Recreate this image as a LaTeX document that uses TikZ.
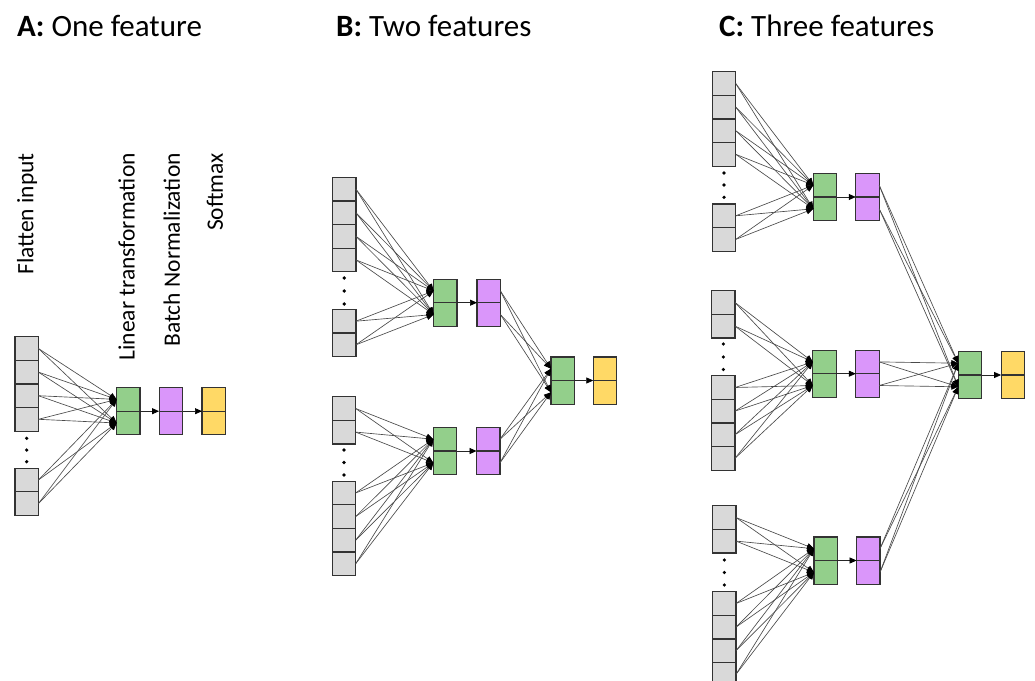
\documentclass[tikz,border=0pt]{standalone}
\usepackage{fontspec}
\setmainfont{Carlito}
\usetikzlibrary{arrows.meta}
\definecolor{cellgray}{HTML}{D9D9D9}
\definecolor{lingreen}{HTML}{93CF8B}
\definecolor{bnpurple}{HTML}{DA96FA}
\definecolor{smyellow}{HTML}{FFD966}
\definecolor{boxc}{HTML}{333333}
\definecolor{linec}{HTML}{4A4A4A}
\newcommand\pairbox[4]{%
  \node[#2] (#1a) at (#3,#4-11.8) {};
  \node[#2] (#1b) at (#3,#4+11.8) {};}
\begin{document}
\begin{tikzpicture}[x=1pt,y=-1pt,
  cell/.style={draw=boxc, line width=1.2pt, minimum width=23.4pt, minimum height=23.6pt, inner sep=0pt, outer sep=0pt},
  inp/.style={cell, fill=cellgray},
  lin/.style={cell, fill=lingreen},
  bn/.style={cell, fill=bnpurple},
  sm/.style={cell, fill=smyellow},
  conn/.style={draw=linec, line width=0.65pt, -{Triangle[length=7pt,width=6pt,color=black]}},
  flow/.style={draw=black!85, line width=0.7pt, -{Triangle[length=7pt,width=6pt,color=black]}},
  vdot/.style={circle, fill=black, inner sep=0pt, minimum size=3.6pt},
  title/.style={anchor=base west, inner sep=0pt, font=\fontsize{31}{37}\selectfont},
  lab/.style={rotate=90, anchor=east, inner sep=0pt, font=\fontsize{23.5}{28}\selectfont}]
\useasboundingbox (0,0) rectangle (1035,680);

% titles
\node[title] (tA) at (17,36) {\textbf{A:} One feature};
\node[title] (tB) at (336,36) {\textbf{B:} Two features};
\node[title] (tC) at (719,36) {\textbf{C:} Three features};

% ---------------- Panel A ----------------
\node[lab] (lF) at (27,153) {Flatten input};
\node[lab] (lL) at (126.7,153) {Linear transformation};
\node[lab] (lB) at (171.7,153) {Batch Normalization};
\node[lab] (lS) at (215,153) {Softmax};

\foreach \n/\y in {1/348.5,2/372.1,3/395.7,4/419.3,5/480,6/503.6}
  \node[inp] (Ai\n) at (26.7,\y) {};
\foreach \n/\y in {1/438.3,2/450,3/461.7}
  \node[vdot] (Ad\n) at (26.7,\y) {};
\pairbox{Ag}{lin}{128.3}{411.2}
\pairbox{Ap}{bn}{170.8}{411.2}
\pairbox{Ay}{sm}{213.7}{411.2}
\foreach \n in {1,...,6}
  \foreach \t in {Aga,Agb}
    \draw[conn] (Ai\n.east) -- (\t.west);
\draw[flow] (Aga.south east) -- (Apa.south west);
\draw[flow] (Apa.south east) -- (Aya.south west);

% ---------------- Panel B ----------------
\foreach \n/\y in {1/189.1,2/212.7,3/236.3,4/259.9,5/321.2,6/344.8}
  \node[inp] (Bu\n) at (344.2,\y) {};
\foreach \n/\y in {1/278,2/291,3/304}
  \node[vdot] (Bud\n) at (344.2,\y) {};
\foreach \n/\y in {1/408.5,2/432.1,3/492.9,4/516.5,5/540.1,6/563.7}
  \node[inp] (Bl\n) at (344,\y) {};
\foreach \n/\y in {1/450,2/462.5,3/475}
  \node[vdot] (Bld\n) at (344,\y) {};
\pairbox{Bg1}{lin}{445.3}{302.7}
\pairbox{Bp1}{bn}{488.7}{302.7}
\pairbox{Bg2}{lin}{445}{451}
\pairbox{Bp2}{bn}{488.3}{451}
\pairbox{Bf}{lin}{562.7}{380.5}
\pairbox{By}{sm}{605}{380.5}
\foreach \n in {1,...,6}
  \foreach \t in {Bg1a,Bg1b}
    \draw[conn] (Bu\n.east) -- (\t.west);
\foreach \n in {1,...,6}
  \foreach \t in {Bg2a,Bg2b}
    \draw[conn] (Bl\n.east) -- (\t.west);
\foreach \s in {Bp1a,Bp1b,Bp2a,Bp2b}
  \foreach \t in {Bfa,Bfb}
    \draw[conn] (\s.east) -- (\t.west);
\draw[flow] (Bg1a.south east) -- (Bp1a.south west);
\draw[flow] (Bg2a.south east) -- (Bp2a.south west);
\draw[flow] (Bfa.south east) -- (Bya.south west);

% ---------------- Panel C ----------------
\foreach \n/\y in {1/83.5,2/107.1,3/130.7,4/154.3,5/215.8,6/239.4}
  \node[inp] (Ct\n) at (724,\y) {};
\foreach \n/\y in {1/173,2/185,3/197.3}
  \node[vdot] (Ctd\n) at (724,\y) {};
\foreach \n/\y in {1/302.5,2/326.1,3/387.5,4/411.1,5/434.7,6/458.3}
  \node[inp] (Cm\n) at (723.3,\y) {};
\foreach \n/\y in {1/344,2/357,3/369.5}
  \node[vdot] (Cmd\n) at (723.3,\y) {};
\foreach \n/\y in {1/517.5,2/541.1,3/603.5,4/627.1,5/650.7,6/674.3}
  \node[inp] (Cb\n) at (724.3,\y) {};
\foreach \n/\y in {1/560,2/572.5,3/585}
  \node[vdot] (Cbd\n) at (724.3,\y) {};
\pairbox{Cg1}{lin}{825}{197}
\pairbox{Cp1}{bn}{867.5}{197}
\pairbox{Cg2}{lin}{824.5}{373.7}
\pairbox{Cp2}{bn}{867.5}{373.7}
\pairbox{Cg3}{lin}{825.7}{560.5}
\pairbox{Cp3}{bn}{868.3}{560.5}
\pairbox{Cf}{lin}{970}{375}
\pairbox{Cy}{sm}{1012.8}{375}
\foreach \n in {1,...,6}
  \foreach \t in {Cg1a,Cg1b}
    \draw[conn] (Ct\n.east) -- (\t.west);
\foreach \n in {1,...,6}
  \foreach \t in {Cg2a,Cg2b}
    \draw[conn] (Cm\n.east) -- (\t.west);
\foreach \n in {1,...,6}
  \foreach \t in {Cg3a,Cg3b}
    \draw[conn] (Cb\n.east) -- (\t.west);
\foreach \s in {Cp1a,Cp1b,Cp2a,Cp2b,Cp3a,Cp3b}
  \foreach \t in {Cfa,Cfb}
    \draw[conn] (\s.east) -- (\t.west);
\draw[flow] (Cg1a.south east) -- (Cp1a.south west);
\draw[flow] (Cg2a.south east) -- (Cp2a.south west);
\draw[flow] (Cg3a.south east) -- (Cp3a.south west);
\draw[flow] (Cfa.south east) -- (Cya.south west);
\end{tikzpicture}
\end{document}
